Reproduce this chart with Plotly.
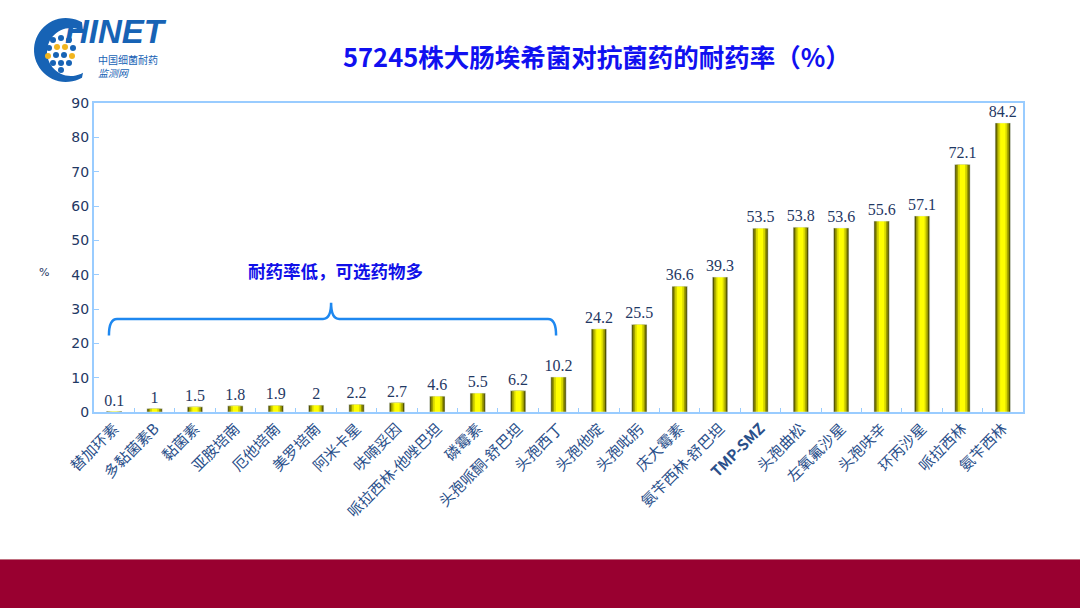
import plotly.graph_objects as go
import numpy as np

categories = ["替加环素", "多黏菌素B", "黏菌素", "亚胺培南", "厄他培南", "美罗培南", "阿米卡星",
              "呋喃妥因", "哌拉西林-他唑巴坦", "磷霉素", "头孢哌酮-舒巴坦", "头孢西丁", "头孢他啶",
              "头孢吡肟", "庆大霉素", "氨苄西林-舒巴坦", "TMP-SMZ", "头孢曲松", "左氧氟沙星",
              "头孢呋辛", "环丙沙星", "哌拉西林", "氨苄西林"]
values = [0.1, 1, 1.5, 1.8, 1.9, 2, 2.2, 2.7, 4.6, 5.5, 6.2, 10.2, 24.2, 25.5, 36.6, 39.3,
          53.5, 53.8, 53.6, 55.6, 57.1, 72.1, 84.2]
labels = ["0.1", "1", "1.5", "1.8", "1.9", "2", "2.2", "2.7", "4.6", "5.5", "6.2", "10.2", "24.2",
          "25.5", "36.6", "39.3", "53.5", "53.8", "53.6", "55.6", "57.1", "72.1", "84.2"]
y_ticks = list(range(0, 91, 10))

W, H = 1080, 608
L, R, T, B = 94, 1023, 103, 412

tick_labels = [f"<b>{c}</b>" if c == "TMP-SMZ" else c for c in categories]

fig = go.Figure()
for w, col in [(0.38, "#545400"), (0.30, "#9a9a00"), (0.22, "#d8d800"), (0.13, "#ffff00")]:
    fig.add_trace(go.Bar(x=categories, y=values, width=w, marker=dict(color=col, line=dict(width=0)),
                         hoverinfo="skip", showlegend=False))
fig.add_trace(go.Bar(x=categories, y=values, width=0.38, marker=dict(color="rgba(0,0,0,0)"),
                     text=labels, textposition="outside", cliponaxis=False, constraintext="none",
                     textfont=dict(family="Liberation Serif", size=16, color="#1F3864"),
                     showlegend=False))


def px2p(x, y):
    return (x - L) / (R - L), (B - y) / (B - T)


shapes = []
# bottom band
x0, y0 = px2p(0, 608)
x1, y1 = px2p(1080, 559)
shapes.append(dict(type="rect", xref="paper", yref="paper", x0=x0, y0=y0, x1=x1, y1=y1,
                   fillcolor="#990030", line=dict(width=0), layer="above"))
x0, y0 = px2p(0, 560)
x1, y1 = px2p(1080, 559)
shapes.append(dict(type="rect", xref="paper", yref="paper", x0=x0, y0=y0, x1=x1, y1=y1,
                   fillcolor="#c07080", line=dict(width=0)))

# brace (data coords)
bx0, bx1, bm = -0.13, 10.94, 5.37
yh, ye, yt = 27.1, 22.3, 31.8
d = 0.2
path = (f"M {bx0},{ye} Q {bx0},{yh} {bx0+d},{yh} L {bm-d},{yh} Q {bm},{yh} {bm},{yt} "
        f"Q {bm},{yh} {bm+d},{yh} L {bx1-d},{yh} Q {bx1},{yh} {bx1},{ye}")
shapes.append(dict(type="path", xref="x", yref="y", path=path,
                   line=dict(color="#1E88F0", width=2.5)))

# logo crescent
cx, cy = 66, 50
pts = []
for a in np.linspace(np.radians(60), np.radians(300), 40):
    pts.append((cx + 32 * np.cos(a), cy - 32 * np.sin(a)))
for a in np.linspace(np.radians(300), np.radians(60), 40):
    pts.append((cx + 5 + 24 * np.cos(a), cy - 24 * np.sin(a) + 2))
pp = [px2p(x, y) for x, y in pts]
path = "M " + " L ".join(f"{x:.5f},{y:.5f}" for x, y in pp) + " Z"
shapes.append(dict(type="path", xref="paper", yref="paper", path=path,
                   fillcolor="#1763B5", line=dict(width=0)))
dots = [(53, 40, "#1763B5"), (61, 38, "#1763B5"), (69, 40, "#1763B5"),
        (49, 48, "#1763B5"), (57, 47, "#F2B51E"), (65, 47, "#F2B51E"), (73, 48, "#1763B5"),
        (48, 56, "#F2B51E"), (56, 55, "#1763B5"), (64, 55, "#1763B5"), (72, 56, "#F2B51E"),
        (53, 63, "#1763B5"), (61, 63, "#1763B5"), (69, 63, "#1763B5"), (61, 70, "#1763B5")]
for x, y, c in dots:
    a0, b0 = px2p(x - 3, y + 3)
    a1, b1 = px2p(x + 3, y - 3)
    shapes.append(dict(type="circle", xref="paper", yref="paper", x0=a0, y0=b0, x1=a1, y1=b1,
                       fillcolor=c, line=dict(width=0)))

annotations = []


def ann(text, x, y, size, color, family="Noto Sans CJK SC", xanchor="center", yanchor="middle", **kw):
    px, py = px2p(x, y)
    annotations.append(dict(text=text, x=px, y=py, xref="paper", yref="paper", showarrow=False,
                            xanchor=xanchor, yanchor=yanchor,
                            font=dict(family=family, size=size, color=color), **kw))


ann("<b>57245株大肠埃希菌对抗菌药的耐药率（%）</b>", 597, 56, 25.5, "#1010F0")
ann("<b>耐药率低，可选药物多</b>", 335, 270, 17.5, "#1010E8")
ann("%", 44, 272, 11, "#1F3864", family="DejaVu Sans")
ann("<b><i>HINET</i></b>", 64, 51, 33, "#1763B5", family="Liberation Sans", xanchor="left",
    yanchor="bottom", borderpad=0)
ann("中国细菌耐药<br><i>监测网</i>", 97, 51, 10, "#1763B5", xanchor="left", yanchor="top",
    borderpad=0, align="left")

fig.update_layout(
    width=W, height=H, autosize=False,
    margin=dict(l=L, r=W - R, t=T, b=H - B, pad=0),
    paper_bgcolor="white", plot_bgcolor="white",
    barmode="overlay", showlegend=False,
    shapes=shapes, annotations=annotations,
    xaxis=dict(type="category", tickmode="array", tickvals=categories, ticktext=tick_labels,
               tickangle=-45, tickfont=dict(family="Noto Sans CJK SC", size=15, color="#2A4F8A"),
               showline=True, linecolor="#99CCFF", linewidth=2, mirror=True,
               ticks="inside", tickson="boundaries", ticklen=4, tickcolor="#99CCFF",
               showgrid=False, range=[-0.5, len(categories) - 0.5]),
    yaxis=dict(range=[0, 90], tickvals=y_ticks, tickfont=dict(family="DejaVu Sans", size=14, color="#1F3864"),
               showline=True, linecolor="#99CCFF", linewidth=2, mirror=True,
               ticks="inside", ticklen=5, tickcolor="#99CCFF", showgrid=False, zeroline=False),
)

fig.write_html("out.html")
